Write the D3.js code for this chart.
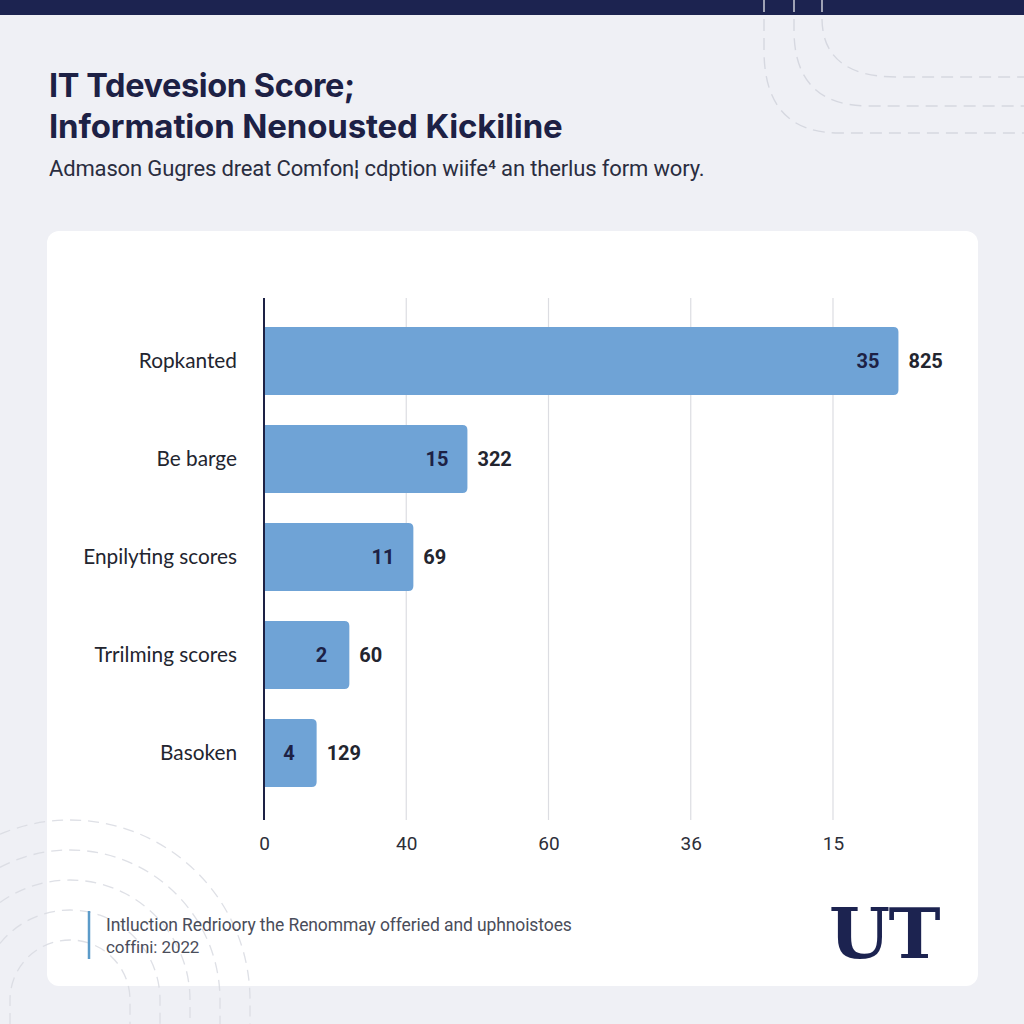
<!DOCTYPE html>
<html><head><meta charset="utf-8">
<script src="https://cdn.jsdelivr.net/npm/d3@7"></script>
<style>
html,body{margin:0;padding:0;background:#eff0f5;}
svg{display:block;}
</style></head>
<body>
<svg id="c" width="1024" height="1024"></svg>
<script>
const categories = ["Ropkanted", "Be barge", "Enpilyting scores", "Trrilming scores", "Basoken"];
const barValues = [4.46, 1.43, 1.05, 0.60, 0.37];           // in axis grid units
const innerLabels = ["35", "15", "11", "2", "4"];
const outerLabels = ["825", "322", "69", "60", "129"];
const tickValues = [0, 1, 2, 3, 4];
const tickLabels = ["0", "40", "60", "36", "15"];

const svg = d3.select("#c");
const navy = "#1c2350";

// background
svg.append("rect").attr("width",1024).attr("height",1024).attr("fill","#eff0f5");
svg.append("rect").attr("width",1024).attr("height",15).attr("fill",navy);

// decorative dashed arcs top-right
const deco = svg.append("g").attr("fill","none").attr("stroke","#d6d8e0").attr("stroke-width",1.4).attr("stroke-dasharray","12 7");
[[764,133,50],[794,106,30],[822,77,18]].forEach(([x,y,v])=>{
  deco.append("path").attr("d",`M${x},0 V${v} Q${x},${y} ${x+75},${y} H1024`);
});

// titles
const titleFont = "Inter, Roboto, sans-serif";
svg.append("text").attr("x",49).attr("y",97).attr("font-family",titleFont)
  .attr("font-weight",700).attr("font-size",32.5).attr("fill","#1d2145").attr("letter-spacing","-0.4")
  .text("IT Tdevesion Score;");
svg.append("text").attr("x",49).attr("y",138).attr("font-family",titleFont)
  .attr("font-weight",700).attr("font-size",33).attr("fill","#1d2145").attr("letter-spacing","-0.15")
  .text("Information Nenousted Kickiline");
svg.append("text").attr("x",49).attr("y",176).attr("font-family","Roboto, sans-serif")
  .attr("font-size",22).attr("fill","#2a2d40").attr("letter-spacing","-0.15")
  .text("Admason Gugres dreat Comfon¦ cdption wiife⁴ an therlus form wory.");

// card
svg.append("rect").attr("x",47).attr("y",231).attr("width",931).attr("height",755).attr("rx",12)
  .attr("fill","#ffffff");

// scales
const x = d3.scaleLinear().domain([0,4]).range([264,833]);
const y = d3.scaleBand().domain(categories).range([312,802]).paddingInner(0.306).paddingOuter(0.153);

// grid lines
const g = svg.append("g");
g.selectAll("line.grid").data(tickValues.slice(1)).join("line")
  .attr("x1",d=>x(d)).attr("x2",d=>x(d)).attr("y1",298).attr("y2",820)
  .attr("stroke","#dcdde2").attr("stroke-width",1.2);

// bars with rounded right corners
function barPath(x0,x1,y0,h,r){
  r=Math.min(r,(x1-x0));
  return `M${x0},${y0} H${x1-r} Q${x1},${y0} ${x1},${y0+r} V${y0+h-r} Q${x1},${y0+h} ${x1-r},${y0+h} H${x0} Z`;
}
g.selectAll("path.bar").data(categories).join("path").attr("class","bar")
  .attr("d",(d,i)=>barPath(x(0),x(barValues[i]),y(d),y.bandwidth(),5))
  .attr("fill","#6fa3d6");

// axis line
g.append("line").attr("x1",x(0)).attr("x2",x(0)).attr("y1",298).attr("y2",820)
  .attr("stroke","#1d2145").attr("stroke-width",2);

// category labels
g.selectAll("text.cat").data(categories).join("text")
  .attr("x",237).attr("y",d=>y(d)+y.bandwidth()/2).attr("dy","0.35em")
  .attr("text-anchor","end").attr("font-family","Lato, 'Open Sans', sans-serif")
  .attr("font-size",20.8).attr("fill","#23252f").text(d=>d);

// inner labels
g.selectAll("text.in").data(categories).join("text")
  .attr("x",(d,i)=>x(barValues[i])-(i>=3?22:19)).attr("y",d=>y(d)+y.bandwidth()/2).attr("dy","0.35em")
  .attr("text-anchor","end").attr("font-family","Roboto, sans-serif").attr("font-weight",700)
  .attr("font-size",20).attr("fill","#1d2145").text((d,i)=>innerLabels[i]);

// outer labels
g.selectAll("text.out").data(categories).join("text")
  .attr("x",(d,i)=>x(barValues[i])+10).attr("y",d=>y(d)+y.bandwidth()/2).attr("dy","0.35em")
  .attr("font-family","Roboto, sans-serif").attr("font-weight",700)
  .attr("font-size",20).attr("fill","#23252f").text((d,i)=>outerLabels[i]);

// x axis
const axis = d3.axisBottom(x).tickValues(tickValues).tickFormat((d,i)=>tickLabels[i]).tickSize(0).tickPadding(0);
const ax = svg.append("g").attr("transform","translate(0,836)").call(axis);
ax.select(".domain").remove();
ax.selectAll("text").attr("font-family","Roboto, sans-serif").attr("font-size",19).attr("fill","#2c2e38").attr("dy","0.71em");

// decorative dashed arcs bottom-left (over card, faint)
const deco2 = svg.append("g").attr("fill","none").attr("stroke","#d9dbe2").attr("stroke-width",1.3)
  .attr("stroke-dasharray","11 7").attr("opacity",0.85);
[180,150,120,90,60].forEach(r=>{
  const cx=70, cy=1000;
  const y0 = cy - Math.sqrt(Math.max(r*r-cx*cx,0));
  const path = r>cx
    ? `M0,${y0} A${r},${r} 0 0 1 ${cx+r},${cy} V1024`
    : `M${cx-r},1024 V${cy} A${r},${r} 0 0 1 ${cx+r},${cy} V1024`;
  deco2.append("path").attr("d",path);
});

// footer
svg.append("line").attr("x1",89).attr("x2",89).attr("y1",911).attr("y2",959).attr("stroke","#5b9bc9").attr("stroke-width",2.5);
svg.append("text").attr("x",106).attr("y",931).attr("font-family","Roboto, sans-serif").attr("font-size",17.5)
  .attr("fill","#4a4d5a").attr("letter-spacing","-0.1").text("Intluction Redrioory the Renommay offeried and uphnoistoes");
svg.append("text").attr("x",106).attr("y",953).attr("font-family","Roboto, sans-serif").attr("font-size",17)
  .attr("fill","#4a4d5a").attr("letter-spacing","-0.1").text("coffini: 2022");
svg.append("text").attr("x",829).attr("y",958).attr("font-family","'DejaVu Serif', 'Liberation Serif', serif")
  .attr("font-weight",700).attr("font-size",70).attr("fill","#1c2350").attr("letter-spacing","-1.5").text("UT");
</script>
</body></html>
